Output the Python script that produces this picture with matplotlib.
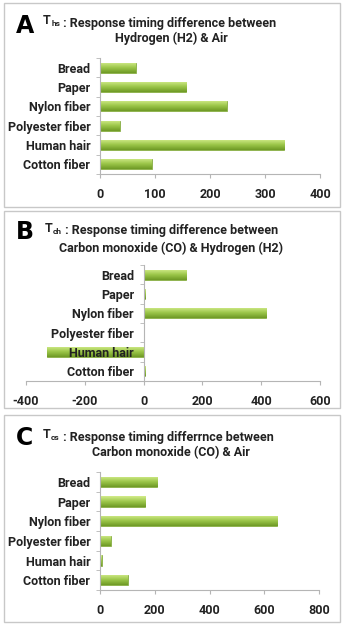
import matplotlib.pyplot as plt
import numpy as np
from matplotlib.patches import Rectangle
from matplotlib.colors import LinearSegmentedColormap

categories = ["Cotton fiber", "Human hair", "Polyester fiber", "Nylon fiber", "Paper", "Bread"]

ths = [94, 335, 36, 230, 157, 65]       # H2 vs Air
tch = [5, -329, 2, 416, 5, 144]         # CO vs H2
tcs = [101, 7, 40, 647, 165, 209]       # CO vs Air

ticks_a = [0, 100, 200, 300, 400]
ticks_b = [-400, -200, 0, 200, 400, 600]
ticks_c = [0, 200, 400, 600, 800]

plt.rcParams['font.family'] = ['Roboto', 'DejaVu Sans']

W, H = 344, 625
fig = plt.figure(figsize=(W / 100, H / 100), dpi=100)
fig.patch.set_facecolor('white')

grad = LinearSegmentedColormap.from_list('g', ['#6f9a26', '#9cc74a', '#d2eb8a'])
gray = '#b5b5b5'


def px(x, y):
    return x / W, 1 - y / H


def panel(box, axpos, vals, ticks, letter, sub, line1, line2, ys):
    # light border around each panel
    x0, y0, x1, y1 = box
    fig.patches.append(Rectangle(px(x0, y1), (x1 - x0) / W, (y1 - y0) / H,
                                 transform=fig.transFigure, fill=False,
                                 edgecolor='#c8c8c8', lw=1))
    l, t, r, b = axpos
    ax = fig.add_axes([l / W, 1 - b / H, (r - l) / W, (b - t) / H])
    ax.set_axisbelow(False)
    ax.spines['left'].set_position(('data', 0))
    ypos = np.arange(len(categories))
    bars = ax.barh(ypos, vals, height=0.52, color='#8db63c', edgecolor='#7da533', lw=0.5, zorder=2)
    for bar in bars:
        bx, by, bw, bh = bar.get_x(), bar.get_y(), bar.get_width(), bar.get_height()
        im = ax.imshow(np.linspace(0, 1, 32).reshape(-1, 1), cmap=grad, aspect='auto',
                       extent=(bx, bx + bw, by, by + bh), origin='lower', zorder=2.1)
        im.set_clip_path(bar)
    ax.set_xlim(ticks[0], ticks[-1])
    ax.set_ylim(-0.5, len(categories) - 0.5)
    ax.set_xticks(ticks)
    ax.set_xticklabels([str(t) for t in ticks], fontsize=9, fontweight='bold', color='#222222')
    ax.set_yticks(ypos)
    ax.set_yticklabels(categories, fontsize=9, fontweight='bold', color='#222222')
    ax.set_yticks(np.arange(-0.5, len(categories)), minor=True)
    ax.tick_params(axis='y', which='major', length=0, pad=7)
    ax.tick_params(axis='y', which='minor', length=3, color=gray, direction='out')
    ax.tick_params(axis='x', length=3, color=gray, pad=7)
    for s in ['top', 'right']:
        ax.spines[s].set_visible(False)
    for s in ['left', 'bottom']:
        ax.spines[s].set_color(gray)
        ax.spines[s].set_linewidth(0.8)
    ax.set_facecolor('none')

    ly, y1t, y2t, lx = ys
    fig.text(*px(lx, ly), letter, fontsize=17, fontweight='bold',
             family=['DejaVu Sans'], ha='left', va='center')
    tx = fig.text(*px(43 if letter != 'B' else 45, y1t), 'T', fontsize=9,
                  fontweight='bold', ha='left', va='center', color='#222222')
    s = plt.annotate(sub, xy=(1, 0), xycoords=tx, xytext=(0.3, 0), textcoords='offset points',
                     fontsize=6, fontweight='bold', ha='left', va='bottom', color='#222222')
    plt.annotate(' : ' + line1, xy=(1, 0), xycoords=s, xytext=(0, -1.5),
                 textcoords='offset points', fontsize=9, fontweight='bold',
                 ha='left', va='bottom', color='#222222')
    fig.text(*px(171, y2t), line2, fontsize=9, fontweight='bold', ha='center',
             va='center', color='#222222')
    return ax


panel((4, 3, 340, 207), (100, 58, 320, 174), ths, ticks_a, 'A', 'hs',
      'Response timing difference between', 'Hydrogen (H2) & Air', (26, 21, 38, 16))
panel((4, 211, 340, 408), (26, 265, 320, 381), tch, ticks_b, 'B', 'ch',
      'Response timing difference between', 'Carbon monoxide (CO) & Hydrogen (H2)',
      (232, 228, 248, 16))
panel((4, 415, 340, 622), (100, 472, 319, 590), tcs, ticks_c, 'C', 'cs',
      'Response timing differrnce between', 'Carbon monoxide (CO) & Air',
      (438, 435, 453, 16))

fig.savefig('out.png', dpi=100, facecolor='white')
